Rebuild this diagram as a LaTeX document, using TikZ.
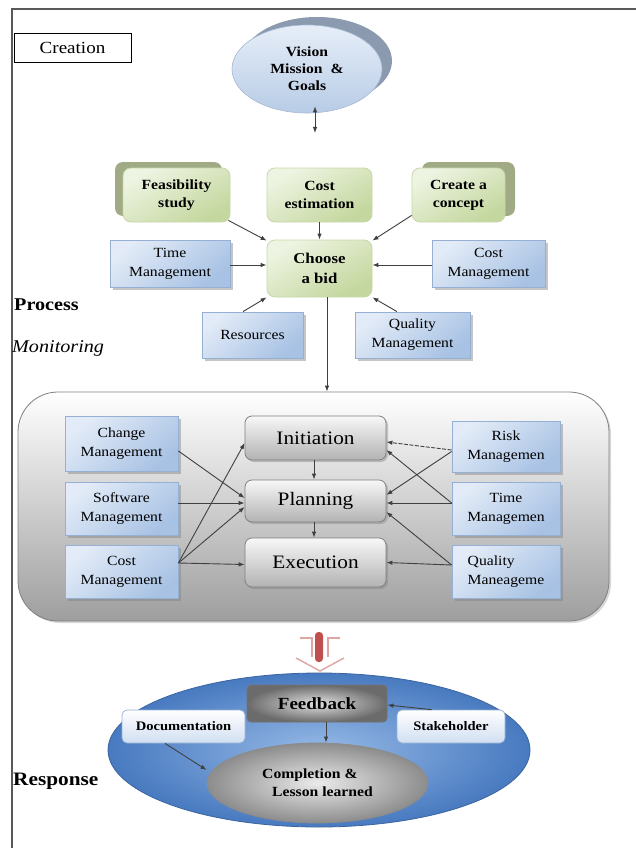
\documentclass[tikz,border=0pt]{standalone}
\usepackage{fontspec}
\setmainfont[FakeStretch=1.12]{Liberation Serif}
\usetikzlibrary{shapes.geometric,shadows,arrows.meta,calc}
\definecolor{blueA}{RGB}{226,235,247}
\definecolor{blueB}{RGB}{168,194,228}
\definecolor{blueBd}{RGB}{150,176,212}
\definecolor{greenA}{RGB}{238,244,226}
\definecolor{greenB}{RGB}{196,215,158}
\definecolor{greenBd}{RGB}{200,215,170}
\definecolor{greenSh}{RGB}{160,170,132}
\definecolor{visA}{RGB}{230,238,248}
\definecolor{visB}{RGB}{184,204,230}
\definecolor{visBd}{RGB}{165,185,212}
\definecolor{visSh}{RGB}{140,154,175}
\definecolor{respIn}{RGB}{150,185,230}
\definecolor{respOut}{RGB}{72,122,192}
\definecolor{respBd}{RGB}{60,100,160}
\definecolor{redbar}{RGB}{192,80,77}
\definecolor{pinkline}{RGB}{222,165,162}
\tikzset{
  wh/.style 2 args={minimum width=#1pt, minimum height=#2pt},
  base/.style={align=center, inner sep=1pt, text=black},
  bluebox/.style={base, draw=blueBd, line width=0.8pt, top color=blueA, bottom color=blueB, shading angle=40,
    drop shadow={shadow xshift=2.5pt, shadow yshift=-2.5pt, opacity=0.45},
    font=\fontsize{14}{19}\selectfont},
  greenbox/.style={base, draw=greenBd, line width=0.8pt, rounded corners=8pt, top color=greenA, bottom color=greenB, shading angle=30,
    font=\bfseries\fontsize{14}{18}\selectfont},
  graybox/.style={base, draw=black!50, line width=0.8pt, rounded corners=7pt, top color=black!3, bottom color=black!30,
    drop shadow={shadow xshift=2pt, shadow yshift=-2pt, opacity=0.4},
    font=\fontsize{19}{22}\selectfont},
  lightbox/.style={base, draw=blueBd, line width=0.7pt, rounded corners=5pt, top color=white, bottom color=blueA!70!blueB,
    font=\bfseries\fontsize{13}{16}\selectfont},
  arr/.style={draw=black!75, line width=0.9pt, -{Latex[length=6pt,width=4.5pt]}},
  darr/.style={draw=black!75, line width=0.9pt, {Latex[length=6pt,width=4.5pt]}-{Latex[length=6pt,width=4.5pt]}},
  sidelabel/.style={anchor=base west, inner sep=0pt, font=\fontsize{18}{20}\selectfont}
}
\begin{document}
\begin{tikzpicture}[x=1pt,y=-1pt]
\useasboundingbox (0,0) rectangle (636,848);
\fill[white] (0,0) rectangle (636,848);
% frame
\draw[line width=1.6pt, draw=black!65] (12,848) -- (12,9) -- (636,9);

% creation
\node[base, draw=black, line width=0.8pt, wh={117}{29}, font=\fontsize{17}{20}\selectfont] (creation) at (72.5,47.5) {Creation};

% vision
\fill[visSh] (317,61) ellipse [x radius=75, y radius=44];
\node[ellipse, draw=visBd, line width=0.6pt, top color=visA, bottom color=visB, wh={150}{88}, inner sep=0pt,
  align=center, font=\bfseries\fontsize{14}{17}\selectfont] (vision) at (307,69) {Vision\\Mission \ \&\\Goals};
\coordinate (vtop) at ([xshift=8pt,yshift=7pt]vision.south);
\coordinate (vbot) at (315,133);
\draw[darr] (vtop) -- (vbot);

% green boxes
\fill[greenSh, rounded corners=8pt] (115,162) rectangle (222,216);
\fill[greenSh, rounded corners=8pt] (422,162) rectangle (515,216);
\node[greenbox, wh={107}{54}] (feas) at (176.5,195) {Feasibility\\study};
\node[greenbox, wh={105}{54}] (costest) at (319.5,195) {Cost\\estimation};
\node[greenbox, wh={93}{54}] (concept) at (458.5,195) {Create a\\concept};
\node[greenbox, wh={105}{57}, font=\bfseries\fontsize{15}{20}\selectfont] (choose) at (319.5,268.5) {Choose\\a bid};

% blue boxes top
\node[bluebox, wh={120}{47}] (timeT) at (170,263.5) {Time\\Management};
\node[bluebox, wh={113}{47}] (costT) at (488.5,263.5) {Cost\\Management};
\node[bluebox, wh={101}{46}] (res) at (252.5,335) {Resources};
\node[bluebox, wh={115}{46}] (qualT) at (412.5,335) {Quality\\Management};

% arrows top
\draw[arr] ([xshift=-2pt,yshift=2pt]feas.south east) -- ([yshift=-1pt]choose.north west);
\draw[arr] (costest.south) -- (choose.north);
\draw[arr] ([yshift=7pt]concept.south west) -- ([yshift=-1pt]choose.north east);
\draw[arr] ([yshift=-1.5pt]timeT.east) -- ([yshift=-1.5pt]timeT.east -| choose.west);
\draw[arr] ([yshift=-1.5pt]costT.west) -- ([yshift=-1.5pt]costT.west -| choose.east);
\draw[arr] ([xshift=-9.5pt]res.north) -- (choose.south west);
\draw[arr] ([xshift=-15.5pt]qualT.north) -- (choose.south east);

% labels
\node[sidelabel, font=\bfseries\fontsize{18}{20}\selectfont] (lblproc) at (14,310) {Process};
\node[sidelabel, font=\itshape\fontsize{18}{20}\selectfont] (lblmon) at (12,352) {Monitoring};
\node[sidelabel, font=\bfseries\fontsize{19}{20}\selectfont] (lblresp) at (13,785) {Response};

% process big box
\node[draw=black!50, line width=0.8pt, rounded corners=40pt, top color=white, bottom color=black!38, wh={591}{229},
  drop shadow={shadow xshift=2pt, shadow yshift=-2pt, opacity=0.3}] (proc) at (313.5,506.5) {};
\coordinate (chdown) at ([xshift=7.5pt]choose.south);
\draw[arr] (chdown) -- (chdown |- proc.north);

\node[bluebox, wh={113}{55}] (change) at (121.5,444) {Change\\Management};
\node[bluebox, wh={113}{53}] (soft) at (121.5,508.5) {Software\\Management};
\node[bluebox, wh={113}{53}] (costP) at (121.5,571.5) {Cost\\Management};
\node[graybox, wh={141}{44}] (init) at (315.5,438) {Initiation};
\node[graybox, wh={141}{42}] (plan) at (315.5,501) {Planning};
\node[graybox, wh={141}{49}] (exec) at (315.5,562.5) {Execution};
\node[bluebox, wh={108}{51}] (risk) at (506,446.5) {Risk\\Managemen};
\node[bluebox, wh={108}{53}] (timeP) at (506,508.5) {Time\\Managemen};
\node[bluebox, wh={108}{53}, align=left] (qualP) at (506,571.5) {Quality\\Maneageme};

\draw[arr] ([yshift=-7pt]change.east) -- ([yshift=3pt]plan.west);
\draw[arr] ([yshift=5.5pt]soft.east) -- ([yshift=-2pt]plan.west);
\draw[arr] ([yshift=8.5pt]costP.east) -- ([yshift=-5pt]init.west);
\draw[arr] ([yshift=8.5pt]costP.east) -- ([yshift=-6pt]plan.west);
\draw[arr] ([yshift=8.5pt]costP.east) -- ([yshift=-2pt]exec.west);
\draw[arr] ([xshift=-1.5pt]init.south) -- ([xshift=-1.5pt]plan.north);
\draw[arr] ([xshift=-1.5pt]plan.south) -- ([xshift=-1.5pt]exec.north);
\draw[arr, dash pattern=on 4pt off 1.5pt] ([yshift=-3.5pt]risk.west) -- ([yshift=-4pt]init.east);
\draw[arr] ([yshift=-5pt]risk.west) -- ([yshift=6pt]plan.east);
\draw[arr] ([yshift=5.5pt]timeP.west) -- ([yshift=-12pt]init.east);
\draw[arr] ([yshift=5.5pt]timeP.west) -- ([yshift=-2pt]plan.east);
\draw[arr] ([yshift=6.5pt]qualP.west) -- ([yshift=-11pt]plan.east);
\draw[arr] ([yshift=6.5pt]qualP.west) -- ([yshift=0pt]exec.east);

% red arrow
\fill[redbar, rounded corners=3.5pt] (315,632) rectangle (323,662);
\draw[pinkline, line width=1.4pt] (300,638) -- (312,638) -- (312,657);
\draw[pinkline, line width=1.4pt] (340,638) -- (328,638) -- (328,657);
\draw[pinkline, line width=1.4pt] (296,658) -- (320,671) -- (344,658);

% response ellipse
\node[ellipse, draw=respBd, line width=0.8pt, inner color=respIn, outer color=respOut, wh={422}{154}, inner sep=0pt] (resp) at (319,750) {};
\node[base, draw=black!55, line width=0.8pt, rounded corners=4pt, inner color=black!12, outer color=black!58, wh={140}{37},
  font=\bfseries\fontsize{17}{20}\selectfont] (feedback) at (317,703.5) {Feedback};
\node[lightbox, wh={123}{33}] (doc) at (183.5,726.5) {Documentation};
\node[lightbox, wh={108}{33}] (stake) at (451,726.5) {Stakeholder};
\node[ellipse, draw=black!45, line width=0.8pt, inner color=black!8, outer color=black!45, wh={221}{80}, inner sep=0pt,
  align=left, font=\bfseries\fontsize{14}{18}\selectfont] (comp) at (317.5,783) {Completion \&\\\hspace*{10pt}Lesson learned};

\coordinate (fbdown) at ([xshift=9pt]feedback.south);
\draw[arr] (fbdown) -- (fbdown |- comp.north);
\draw[arr] ([xshift=-18.5pt]doc.south) -- ([yshift=13pt]comp.west);
\draw[arr] ([xshift=35pt]stake.north west) -- ([yshift=-1.5pt]feedback.east);
\end{tikzpicture}
\end{document}
